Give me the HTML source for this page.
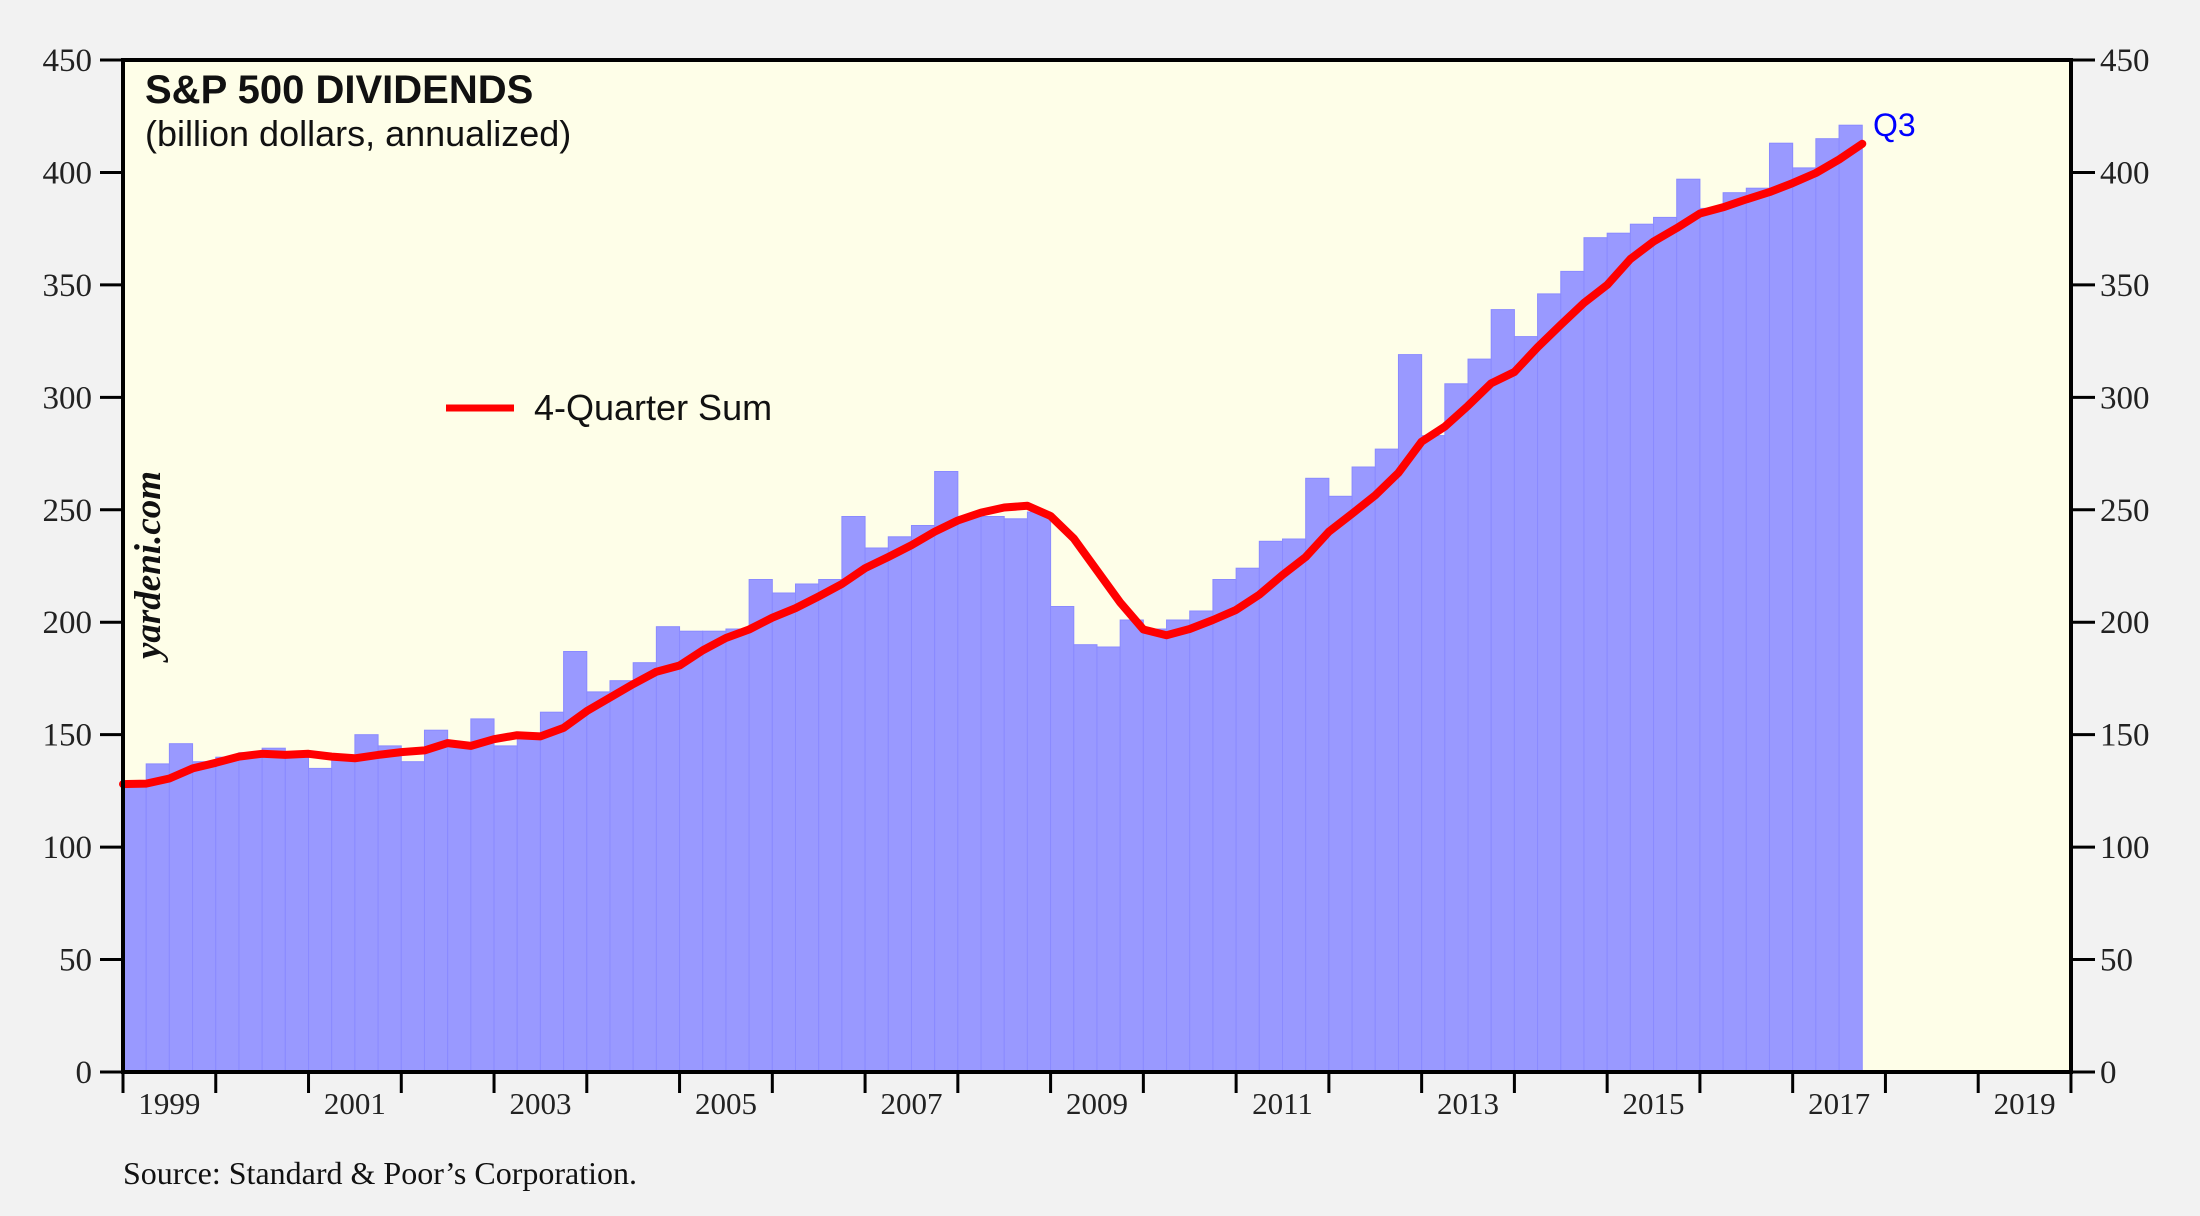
<!DOCTYPE html>
<html><head><meta charset="utf-8"><style>
html,body{margin:0;padding:0;background:#f2f2f2;}
svg{display:block;}
</style></head><body>
<svg id="c" width="2200" height="1216" xmlns="http://www.w3.org/2000/svg"></svg>
<script>
const d=[129,137,146,138, 140,142,144,140, 135,139,150,145, 138,152,145,157, 145,150,160,187, 169,174,182,198,
196,196,197,219, 213,217,219,247, 233,238,243,267, 247,247,246,249, 207,190,189,201, 197,201,205,219, 224,236,237,264,
256,269,277,319, 283,306,317,339, 327,346,356,371, 373,377,380,397, 384,391,393,413, 402,415,421];
const L=123,R=2071,T=60,B=1072,bw=92.76/4;
const Y=v=>B-v*(B-T)/450;
let s='';
s+=`<rect x="${L}" y="${T}" width="${R-L}" height="${B-T}" fill="#fefee8"/>`;
d.forEach((v,i)=>{const x=L+i*bw;s+=`<rect x="${x.toFixed(2)}" y="${Y(v).toFixed(1)}" width="${bw.toFixed(2)}" height="${(B-Y(v)).toFixed(1)}" fill="#9999ff" stroke="#8a8aff" stroke-width="1"/>`;});
let pts=[`${L},${Y(128).toFixed(1)}`];
d.forEach((v,i)=>{let sum=0;for(let k=i-3;k<=i;k++)sum+=(k<0?128:d[k]);pts.push(`${(L+(i+1)*bw).toFixed(1)},${Y(sum/4).toFixed(1)}`);});
s+=`<polyline points="${pts.join(' ')}" fill="none" stroke="#ff0000" stroke-width="8" stroke-linejoin="round" stroke-linecap="round"/>`;
s+=`<rect x="${L}" y="${T}" width="${R-L}" height="${B-T}" fill="none" stroke="#000" stroke-width="4"/>`;
for(let v=0;v<=450;v+=50){const y=Y(v);
s+=`<line x1="100" y1="${y}" x2="${L}" y2="${y}" stroke="#000" stroke-width="3"/>`;
s+=`<line x1="${R}" y1="${y}" x2="2095" y2="${y}" stroke="#000" stroke-width="3"/>`;
s+=`<text x="92" y="${y+11}" text-anchor="end" font-family="Liberation Serif,serif" font-size="33" fill="#222">${v}</text>`;
s+=`<text x="2100" y="${y+11}" font-family="Liberation Serif,serif" font-size="33" fill="#222">${v}</text>`;}
for(let k=0;k<=21;k++){const x=L+k*92.76;s+=`<line x1="${x}" y1="${B}" x2="${x}" y2="1093" stroke="#000" stroke-width="3"/>`;
if(k%2==0&&k<21){s+=`<text x="${x+46.4}" y="1114" text-anchor="middle" font-family="Liberation Serif,serif" font-size="31" fill="#222">${1999+k}</text>`;}}
s+=`<text x="145" y="103" font-family="Liberation Sans,sans-serif" font-weight="bold" font-size="40" fill="#111">S&amp;P 500 DIVIDENDS</text>`;
s+=`<text x="145" y="146" font-family="Liberation Sans,sans-serif" font-size="36" fill="#111">(billion dollars, annualized)</text>`;
s+=`<line x1="446" y1="408" x2="514" y2="408" stroke="#ff0000" stroke-width="7"/>`;
s+=`<text x="534" y="420" font-family="Liberation Sans,sans-serif" font-size="36" fill="#111">4-Quarter Sum</text>`;
s+=`<text x="1873" y="136" font-family="Liberation Sans,sans-serif" font-size="32" fill="#0000ff">Q3</text>`;
s+=`<text transform="translate(160,565) rotate(-90)" text-anchor="middle" font-family="Liberation Serif,serif" font-style="italic" font-weight="bold" font-size="37" fill="#111">yardeni.com</text>`;
s+=`<text x="123" y="1184" font-family="Liberation Serif,serif" font-size="32" fill="#111">Source: Standard &amp; Poor’s Corporation.</text>`;
document.getElementById('c').innerHTML=s;
</script>
</body></html>
